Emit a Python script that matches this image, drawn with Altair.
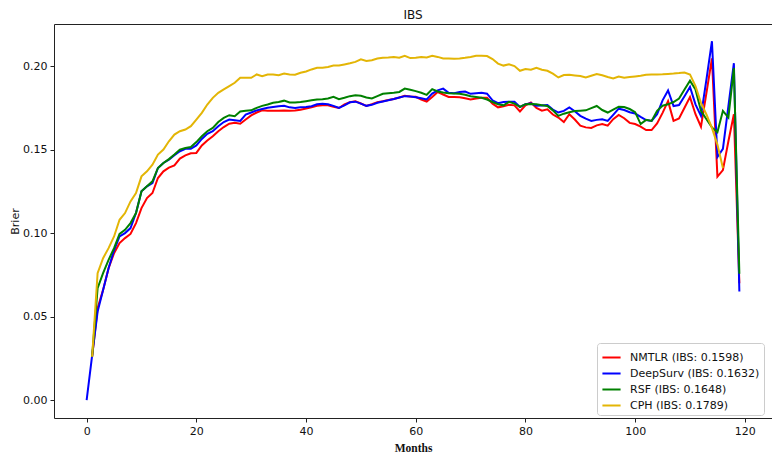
import altair as alt
import pandas as pd

series_names = ["NMTLR (IBS: 0.1598)", "DeepSurv (IBS: 0.1632)",
                "RSF (IBS: 0.1648)", "CPH (IBS: 0.1789)"]
series_colors = ["#ff0000", "#0000ff", "#008000", "#e3b505"]

x_ticks = [0, 20, 40, 60, 80, 100, 120]
y_ticks = [0.0, 0.05, 0.10, 0.15, 0.20]

# NMTLR, months 1..119
nmtlr = [
    0.026, 0.055, 0.066, 0.079, 0.088, 0.094, 0.097, 0.0995, 0.106, 0.115,
    0.121, 0.124, 0.133, 0.137, 0.1392, 0.1405, 0.1446, 0.1465, 0.1478, 0.148,
    0.1525, 0.1554, 0.158, 0.161, 0.1635, 0.1655, 0.166, 0.1655, 0.168, 0.1705,
    0.1722, 0.1735, 0.1733, 0.1732, 0.1732, 0.1734, 0.1733, 0.1734, 0.1739, 0.1746,
    0.1753, 0.1762, 0.1765, 0.1765, 0.1757, 0.1749, 0.177, 0.1784, 0.179, 0.1776,
    0.1762, 0.1772, 0.1783, 0.1789, 0.1797, 0.1803, 0.1812, 0.1822, 0.1818, 0.1816,
    0.180, 0.1788, 0.1815, 0.1845, 0.183, 0.1815, 0.1815, 0.1814, 0.1808, 0.180,
    0.1806, 0.181, 0.181, 0.1775, 0.1753, 0.176, 0.1768, 0.1765, 0.1728, 0.1765,
    0.1782, 0.175, 0.1733, 0.1741, 0.171, 0.1692, 0.1665, 0.1712, 0.168, 0.1643,
    0.1633, 0.163, 0.1645, 0.1653, 0.1643, 0.1682, 0.1708, 0.1688, 0.166, 0.1653,
    0.1637, 0.1617, 0.1617, 0.1657, 0.172, 0.179, 0.1672, 0.1686, 0.1751, 0.1814,
    0.1712, 0.1637, 0.184, 0.2046, 0.1338, 0.1377, 0.155, 0.1712, 0.070,
]
nmtlr_months = list(range(1, 1 + len(nmtlr)))

# DeepSurv, months 0..119
deepsurv = [
    0.0,
    0.0266, 0.053, 0.066, 0.079, 0.0897, 0.098, 0.100, 0.103, 0.112, 0.125,
    0.128, 0.130, 0.139, 0.142, 0.144, 0.1466, 0.149, 0.1505, 0.1505, 0.1525,
    0.1564, 0.1595, 0.161, 0.164, 0.1665, 0.168, 0.1676, 0.1672, 0.171, 0.1722,
    0.1735, 0.1743, 0.175, 0.1755, 0.176, 0.1762, 0.1753, 0.1749, 0.1753, 0.1755,
    0.176, 0.1771, 0.1774, 0.1772, 0.1762, 0.1749, 0.1765, 0.1783, 0.1787, 0.1775,
    0.1762, 0.1768, 0.178, 0.1788, 0.1795, 0.1803, 0.1812, 0.182, 0.1818, 0.1814,
    0.1808, 0.180, 0.1835, 0.1855, 0.1865, 0.184, 0.1838, 0.1845, 0.1848, 0.1834,
    0.1837, 0.184, 0.1835, 0.1795, 0.1778, 0.1785, 0.1787, 0.1787, 0.1755, 0.1772,
    0.1777, 0.1763, 0.1764, 0.1767, 0.174, 0.1722, 0.1732, 0.1752, 0.173, 0.1702,
    0.1685, 0.1672, 0.1678, 0.1682, 0.1672, 0.1708, 0.1745, 0.1737, 0.1724, 0.1716,
    0.1696, 0.1677, 0.1672, 0.1712, 0.1795, 0.1854, 0.1761, 0.1767, 0.182, 0.1875,
    0.1771, 0.1702, 0.192, 0.2149, 0.1456, 0.1505, 0.176, 0.2017, 0.065,
]
deepsurv_months = list(range(0, len(deepsurv)))

# RSF, months 1..119
rsf = [
    0.026, 0.067, 0.076, 0.084, 0.091, 0.0995, 0.102, 0.106, 0.112, 0.125,
    0.128, 0.131, 0.139, 0.142, 0.1443, 0.147, 0.150, 0.151, 0.1515, 0.1545,
    0.158, 0.161, 0.163, 0.1665, 0.169, 0.1706, 0.170, 0.1728, 0.1733, 0.1735,
    0.175, 0.1762, 0.177, 0.178, 0.1785, 0.1793, 0.1782, 0.1782, 0.1785, 0.179,
    0.1795, 0.180, 0.1802, 0.1806, 0.1816, 0.1802, 0.181, 0.182, 0.1826, 0.1822,
    0.1812, 0.1806, 0.182, 0.1834, 0.1837, 0.184, 0.1845, 0.1865, 0.1858, 0.185,
    0.184, 0.1828, 0.1862, 0.1848, 0.1842, 0.1838, 0.1836, 0.1834, 0.1828, 0.182,
    0.1815, 0.181, 0.180, 0.1785, 0.1772, 0.1765, 0.1786, 0.1775, 0.1756, 0.1772,
    0.1773, 0.1771, 0.1766, 0.1761, 0.1735, 0.1702, 0.1715, 0.1724, 0.1731, 0.1733,
    0.1735, 0.1748, 0.1761, 0.1737, 0.1722, 0.174, 0.1757, 0.1755, 0.1743, 0.1724,
    0.1653, 0.1678, 0.1672, 0.1732, 0.1763, 0.1771, 0.1785, 0.1806, 0.186, 0.1913,
    0.186, 0.1732, 0.1682, 0.1633, 0.1604, 0.1732, 0.1692, 0.1988, 0.0757,
]
rsf_months = list(range(1, 1 + len(rsf)))

# CPH, months 1..116
cph = [
    0.026, 0.076, 0.085, 0.091, 0.098, 0.108, 0.112, 0.119, 0.124, 0.134,
    0.137, 0.141, 0.147, 0.150, 0.155, 0.159, 0.161, 0.162, 0.164, 0.168,
    0.172, 0.177, 0.181, 0.184, 0.186, 0.188, 0.190, 0.193, 0.193, 0.193,
    0.195, 0.194, 0.195, 0.195, 0.1945, 0.1955, 0.195, 0.1948, 0.196, 0.1968,
    0.198, 0.199, 0.199, 0.1995, 0.2003, 0.2003, 0.201, 0.2017, 0.2025, 0.204,
    0.203, 0.2035, 0.2045, 0.205, 0.2052, 0.2055, 0.205, 0.2062, 0.2048, 0.205,
    0.2055, 0.2052, 0.2062, 0.2055, 0.2046, 0.2045, 0.2044, 0.2046, 0.205, 0.2055,
    0.2062, 0.2062, 0.206, 0.2042, 0.2015, 0.2003, 0.2011, 0.200, 0.1972, 0.1983,
    0.1978, 0.199, 0.1978, 0.1972, 0.1955, 0.1932, 0.1946, 0.1948, 0.1944, 0.194,
    0.1932, 0.1942, 0.1952, 0.1945, 0.1935, 0.1926, 0.1938, 0.193, 0.1934, 0.1938,
    0.1942, 0.1948, 0.195, 0.195, 0.1951, 0.1953, 0.1955, 0.1958, 0.1962, 0.195,
    0.188, 0.178, 0.171, 0.163, 0.153, 0.139,
]
cph_months = list(range(1, 1 + len(cph)))

rows = []
for name, ms, vs in [(series_names[0], nmtlr_months, nmtlr),
                     (series_names[1], deepsurv_months, deepsurv),
                     (series_names[2], rsf_months, rsf),
                     (series_names[3], cph_months, cph)]:
    for m, v in zip(ms, vs):
        rows.append({"model": name, "month": m, "brier": v})
df = pd.DataFrame(rows)

chart = alt.Chart(df).mark_line(strokeWidth=2, clip=True).encode(
    x=alt.X("month:Q",
            scale=alt.Scale(domain=[-5.95, 124.95], nice=False, zero=False),
            axis=alt.Axis(values=x_ticks, title="Months", format="d",
                          titleFont="Liberation Serif", titleFontWeight="bold",
                          titleFontSize=11.5, titlePadding=6)),
    y=alt.Y("brier:Q",
            scale=alt.Scale(domain=[-0.0107, 0.2252], nice=False, zero=False),
            axis=alt.Axis(values=y_ticks, title="Brier", format=".2f",
                          titleFontWeight="normal", titleFontSize=11,
                          titlePadding=2)),
    color=alt.Color("model:N",
                    scale=alt.Scale(domain=series_names, range=series_colors),
                    legend=alt.Legend(title=None, orient="none",
                                      legendX=543, legendY=319,
                                      symbolType="stroke", symbolSize=330,
                                      symbolStrokeWidth=2,
                                      labelFont="DejaVu Sans", labelFontSize=11,
                                      labelColor="#111",
                                      labelOffset=8, rowPadding=0,
                                      padding=4, strokeColor="#cccccc",
                                      fillColor="white", cornerRadius=3)),
    detail="model:N",
).properties(
    width=718, height=394,
    title=alt.TitleParams("IBS", font="DejaVu Sans", fontSize=12,
                          fontWeight="normal", color="#111", offset=2),
    autosize=alt.AutoSizeParams(type="none"),
    padding={"left": 46, "top": 16, "right": 0, "bottom": 36},
).configure_view(
    stroke="#222", strokeWidth=1
).configure_axis(
    domain=False, grid=False, ticks=True, tickColor="#222", tickSize=4,
    labelFont="DejaVu Sans", labelFontSize=11, labelColor="#111",
    labelPadding=3, titleFont="DejaVu Sans", titleColor="#111"
)

chart.save("out.html", embed_options={"renderer": "svg", "actions": False})
